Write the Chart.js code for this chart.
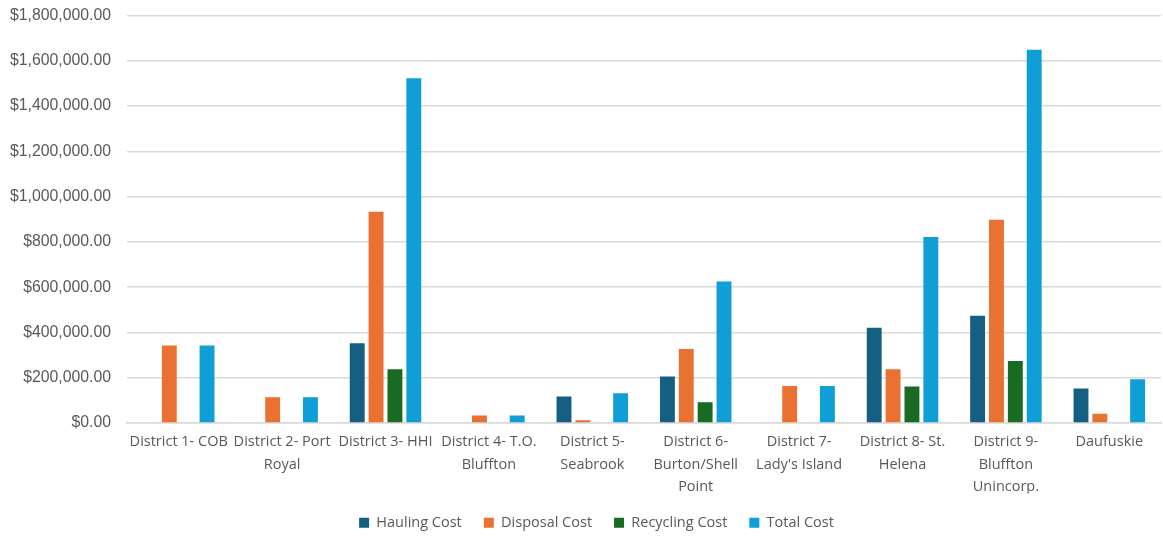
<!DOCTYPE html>
<html>
<head>
<meta charset="utf-8">
<script src="https://cdn.jsdelivr.net/npm/chart.js@4"></script>
<style>
  html, body { margin: 0; padding: 0; background: #fff; overflow: hidden; }
  #wrap { position: relative; width: 1163px; height: 536px; overflow: hidden; }
  #inner { position: absolute; left: 0; top: -10px; width: 1163px; height: 550px; }
</style>
</head>
<body>
<div id="wrap"><div id="inner"><canvas id="myChart"></canvas></div></div>
<script>
let districts = [
    'District 1- COB',
    ['District 2- Port', 'Royal'],
    'District 3- HHI',
    ['District 4- T.O.', 'Bluffton'],
    ['District 5-', 'Seabrook'],
    ['District 6-', 'Burton/Shell', 'Point'],
    ['District 7-', "Lady's Island"],
    ['District 8- St.', 'Helena'],
    ['District 9-', 'Bluffton', 'Unincorp.'],
    'Daufuskie'
];
let hauling   = [null, null, 352000, null, 117000, 206000, null, 421000, 474000, 153000];
let disposal  = [343000, 114000, 933000, 34000, 13000, 327000, 164000, 238000, 898000, 41000];
let recycling = [null, null, 238000, null, null, 92000, null, 161000, 274000, null];
let total     = [343000, 114000, 1523000, 34000, 132000, 625000, 164000, 822000, 1649000, 194000];

Chart.defaults.font.family = "'Open Sans', 'Liberation Sans', sans-serif";
Chart.defaults.color = '#595959';

// nudge the legend a little to the right, like the original
let legendShift = {
    id: 'legendShift',
    afterLayout: function (c) {
        c.legend.left += 16;
        c.legend.right += 16;
    }
};

let myChart = document.getElementById('myChart').getContext('2d');
let chart = new Chart(myChart, {
    type: 'bar',
    data: {
        labels: districts,
        datasets: [
            { label: 'Hauling Cost', data: hauling, backgroundColor: '#156082' },
            { label: 'Disposal Cost', data: disposal, backgroundColor: '#E97132' },
            { label: 'Recycling Cost', data: recycling, backgroundColor: '#196B24' },
            { label: 'Total Cost', data: total, backgroundColor: '#0F9ED5' }
        ]
    },
    options: {
        responsive: true,
        maintainAspectRatio: false,
        animation: false,
        layout: { padding: { top: 0, right: 2, left: 0, bottom: 0 } },
        datasets: {
            bar: { categoryPercentage: 0.73, barPercentage: 0.79 }
        },
        scales: {
            x: {
                grid: { display: false },
                border: { color: '#d9d9d9', width: 1.5 },
                afterFit: function (scale) { scale.height -= 5; },
                ticks: {
                    font: { size: 14.5, lineHeight: 1.55 },
                    color: '#595959',
                    padding: 0,
                    maxRotation: 0,
                    autoSkip: false
                }
            },
            y: {
                min: 0,
                max: 1800000,
                border: { display: false },
                grid: { color: '#d9d9d9', lineWidth: 1.5, drawTicks: false },
                afterFit: function (scale) { scale.width -= 6; },
                ticks: {
                    stepSize: 200000,
                    padding: 16,
                    font: { family: "'Liberation Sans', Arial, sans-serif", size: 15.8 },
                    color: '#595959',
                    callback: function (v) {
                        return '$' + v.toLocaleString('en-US', { minimumFractionDigits: 2, maximumFractionDigits: 2 });
                    }
                }
            }
        },
        plugins: {
            legend: {
                position: 'bottom',
                labels: {
                    boxWidth: 10,
                    boxHeight: 10,
                    padding: 22,
                    font: { size: 14.5 },
                    color: '#595959'
                }
            },
            tooltip: { enabled: false }
        }
    },
    plugins: [legendShift]
});
</script>
</body>
</html>
